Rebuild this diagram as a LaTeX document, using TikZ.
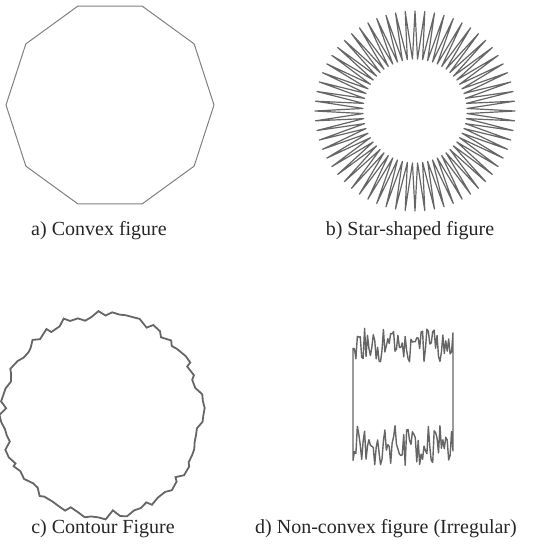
\documentclass[tikz,border=0pt]{standalone}
\usepackage{fontspec}
\setmainfont{Liberation Serif}
\begin{document}
\begin{tikzpicture}[x=0.5pt, y=-0.5pt, line join=round]
    \tikzset{
        outline/.style={draw=black!60, line width=0.7pt},
        caption/.style={font=\fontsize{10}{12}\selectfont, text=black!85, inner sep=0pt}
    }
    \useasboundingbox (0,0) rectangle (545,557);
    \pgfmathsetseed{4242}

    % a) Decagon
    \draw[outline, draw=black!50, line width=0.5pt] plot[samples at={72,108,...,396}] ({110+104*cos(\x)}, {105-104*sin(\x)}) -- cycle;

    % b) Star with 64 spikes
    \draw[outline, line width=0.6pt] (515,111)
        \foreach \k in {0,...,63} {
            -- ({415+52*cos(\k*5.625+2.8125)}, {111-52*sin(\k*5.625+2.8125)})
            -- ({415+100*cos(\k*5.625+5.625)}, {111-100*sin(\k*5.625+5.625)})
        } -- cycle;

    % c) Jagged contour
    \draw[outline, line width=0.9pt, line join=miter] plot[domain=0:356, samples=90] ({102+(100+4.5*rand)*cos(\x)}, {415-(100+4.5*rand)*sin(\x)}) -- cycle;

    % d) Irregular figure
    \draw[outline, line width=0.7pt] plot[domain=353:453, samples=70] (\x, {345+17*rand})
        -- plot[domain=453:353, samples=70] (\x, {446+21*rand}) -- cycle;

    % Captions
    \node[caption] (capA) at (99,231) {a) Convex figure};
    \node[caption] (capB) at (410,231) {b) Star-shaped figure};
    \node[caption] (capC) at (103,529) {c) Contour Figure};
    \node[caption] (capD) at (386,529) {d) Non-convex figure (Irregular)};
\end{tikzpicture}
\end{document}
